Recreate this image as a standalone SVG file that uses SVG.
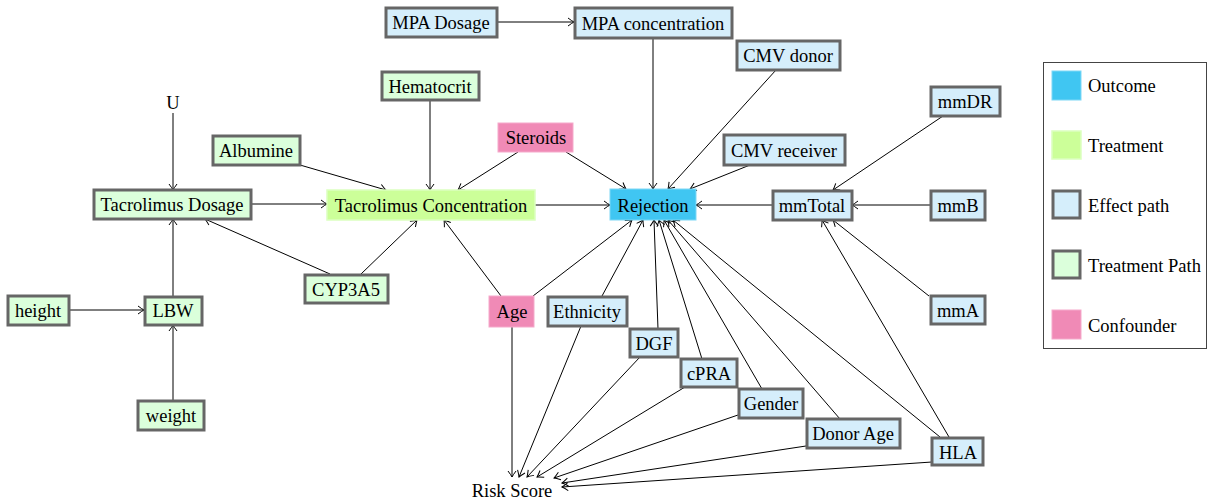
<svg xmlns="http://www.w3.org/2000/svg" width="1207" height="502" viewBox="0 0 1207 502">
<defs>
<marker id="arr" markerUnits="userSpaceOnUse" markerWidth="12" markerHeight="12" viewBox="-8 -6 10 12" refX="0" refY="0" orient="auto">
<path d="M-6,-4 Q-2,-1 0,0 Q-2,1 -6,4" fill="none" stroke="#000" stroke-width="1"/>
</marker>
<style>
text{font-family:"Liberation Serif","Times New Roman",serif;font-size:18.5px;fill:#000;text-anchor:middle}
.eff{fill:#d5eefb;stroke:#666;stroke-width:3}
.tp{fill:#dbffdb;stroke:#666;stroke-width:3}
.trt{fill:#ccff99;stroke:#dcffc0;stroke-width:1.5}
.out{fill:#40c6f2;stroke:#7fd8f6;stroke-width:1}
.conf{fill:#f08ab6;stroke:#f5aacb;stroke-width:1}
#edges line{stroke:#000;stroke-width:1;fill:none;marker-end:url(#arr)}
.lt{text-anchor:start}
</style>
</defs>
<rect width="1207" height="502" fill="#fff"/>
<g id="edges">
<line x1="497" y1="22" x2="574" y2="22"/>
<line x1="653" y1="38" x2="653" y2="189"/>
<line x1="776" y1="70" x2="668" y2="189"/>
<line x1="750" y1="165" x2="690" y2="189"/>
<line x1="566" y1="152" x2="626" y2="189"/>
<line x1="518" y1="152" x2="458" y2="190"/>
<line x1="430" y1="100" x2="430" y2="190"/>
<line x1="300" y1="165" x2="386" y2="190"/>
<line x1="173" y1="113" x2="173" y2="190"/>
<line x1="251" y1="204" x2="327" y2="204"/>
<line x1="535" y1="205" x2="610" y2="205"/>
<line x1="772" y1="205" x2="696" y2="205"/>
<line x1="930" y1="205" x2="852" y2="205"/>
<line x1="943" y1="116" x2="833" y2="190"/>
<line x1="929" y1="296" x2="833" y2="220"/>
<line x1="949" y1="437" x2="822" y2="220"/>
<line x1="330" y1="274" x2="205" y2="219"/>
<line x1="361" y1="274" x2="417" y2="220"/>
<line x1="501" y1="296" x2="444" y2="220"/>
<line x1="533" y1="296" x2="632" y2="220"/>
<line x1="602" y1="296" x2="643" y2="220"/>
<line x1="173" y1="296" x2="173" y2="219"/>
<line x1="69" y1="310" x2="144" y2="310"/>
<line x1="173" y1="400" x2="173" y2="325"/>
<line x1="658" y1="329" x2="654" y2="220"/>
<line x1="702" y1="359" x2="659" y2="220"/>
<line x1="762" y1="389" x2="664" y2="220"/>
<line x1="840" y1="419" x2="668" y2="220"/>
<line x1="940" y1="437" x2="673" y2="220"/>
<line x1="512" y1="327" x2="512" y2="477"/>
<line x1="581" y1="326" x2="519" y2="477"/>
<line x1="640" y1="357" x2="527" y2="477"/>
<line x1="685" y1="387" x2="537" y2="477"/>
<line x1="738" y1="415" x2="554" y2="478"/>
<line x1="806" y1="446" x2="562" y2="483"/>
<line x1="932" y1="462" x2="562" y2="487"/>
</g>
<g id="mpa-dosage"><rect class="eff" x="386" y="8" width="111" height="29"/><text x="441" y="29">MPA Dosage</text></g>
<g id="mpa-concentration"><rect class="eff" x="575" y="8" width="157" height="30"/><text x="653" y="30">MPA concentration</text></g>
<g id="cmv-donor"><rect class="eff" x="737" y="41" width="103" height="29"/><text x="788" y="62">CMV donor</text></g>
<g id="hematocrit"><rect class="tp" x="382" y="72" width="97" height="28"/><text x="430" y="93">Hematocrit</text></g>
<g id="u"><text x="173" y="109">U</text></g>
<g id="mmdr"><rect class="eff" x="931" y="87" width="69" height="29"/><text x="965" y="108">mmDR</text></g>
<g id="steroids"><rect class="conf" x="498" y="123" width="75" height="29"/><text x="536" y="144">Steroids</text></g>
<g id="albumine"><rect class="tp" x="213" y="136" width="87" height="29"/><text x="256" y="157">Albumine</text></g>
<g id="cmv-receiver"><rect class="eff" x="724" y="135" width="121" height="30"/><text x="784" y="157">CMV receiver</text></g>
<g id="tacrolimus-dosage"><rect class="tp" x="94" y="190" width="157" height="29"/><text x="172" y="211">Tacrolimus Dosage</text></g>
<g id="tacrolimus-concentration"><rect class="trt" x="327" y="190" width="208" height="30"/><text x="431" y="212">Tacrolimus Concentration</text></g>
<g id="rejection"><rect class="out" x="610" y="189" width="86" height="31"/><text x="653" y="212">Rejection</text></g>
<g id="mmtotal"><rect class="eff" x="773" y="191" width="79" height="29"/><text x="812" y="212">mmTotal</text></g>
<g id="mmb"><rect class="eff" x="931" y="191" width="54" height="29"/><text x="958" y="212">mmB</text></g>
<g id="height"><rect class="tp" x="8" y="296" width="61" height="29"/><text x="38" y="317">height</text></g>
<g id="lbw"><rect class="tp" x="145" y="297" width="57" height="28"/><text x="173" y="317">LBW</text></g>
<g id="cyp3a5"><rect class="tp" x="305" y="275" width="83" height="28"/><text x="346" y="296">CYP3A5</text></g>
<g id="age"><rect class="conf" x="489" y="296" width="45" height="31"/><text x="512" y="318">Age</text></g>
<g id="ethnicity"><rect class="eff" x="548" y="297" width="79" height="29"/><text x="587" y="318">Ethnicity</text></g>
<g id="mma"><rect class="eff" x="931" y="296" width="54" height="28"/><text x="958" y="317">mmA</text></g>
<g id="dgf"><rect class="eff" x="630" y="329" width="48" height="28"/><text x="654" y="350">DGF</text></g>
<g id="cpra"><rect class="eff" x="681" y="359" width="56" height="28"/><text x="709" y="380">cPRA</text></g>
<g id="gender"><rect class="eff" x="739" y="389" width="64" height="29"/><text x="771" y="410">Gender</text></g>
<g id="donor-age"><rect class="eff" x="807" y="419" width="93" height="29"/><text x="853" y="440">Donor Age</text></g>
<g id="weight"><rect class="tp" x="138" y="401" width="66" height="29"/><text x="171" y="422">weight</text></g>
<g id="hla"><rect class="eff" x="932" y="438" width="51" height="27"/><text x="958" y="459">HLA</text></g>
<g id="risk-score"><text x="512" y="497">Risk Score</text></g>
<g id="legend">
<rect x="1043.5" y="62.5" width="163" height="286" fill="#fff" stroke="#444" stroke-width="1"/>
<rect class="out" x="1052" y="71" width="29" height="29"/><text class="lt" x="1088" y="92">Outcome</text>
<rect class="trt" x="1052" y="131" width="29" height="28"/><text class="lt" x="1088" y="152">Treatment</text>
<rect class="eff" x="1053" y="191" width="27" height="27"/><text class="lt" x="1088" y="212">Effect path</text>
<rect class="tp" x="1053" y="251" width="27" height="27"/><text class="lt" x="1088" y="272">Treatment Path</text>
<rect class="conf" x="1052" y="310" width="29" height="29"/><text class="lt" x="1088" y="332">Confounder</text>
</g>
</svg>
